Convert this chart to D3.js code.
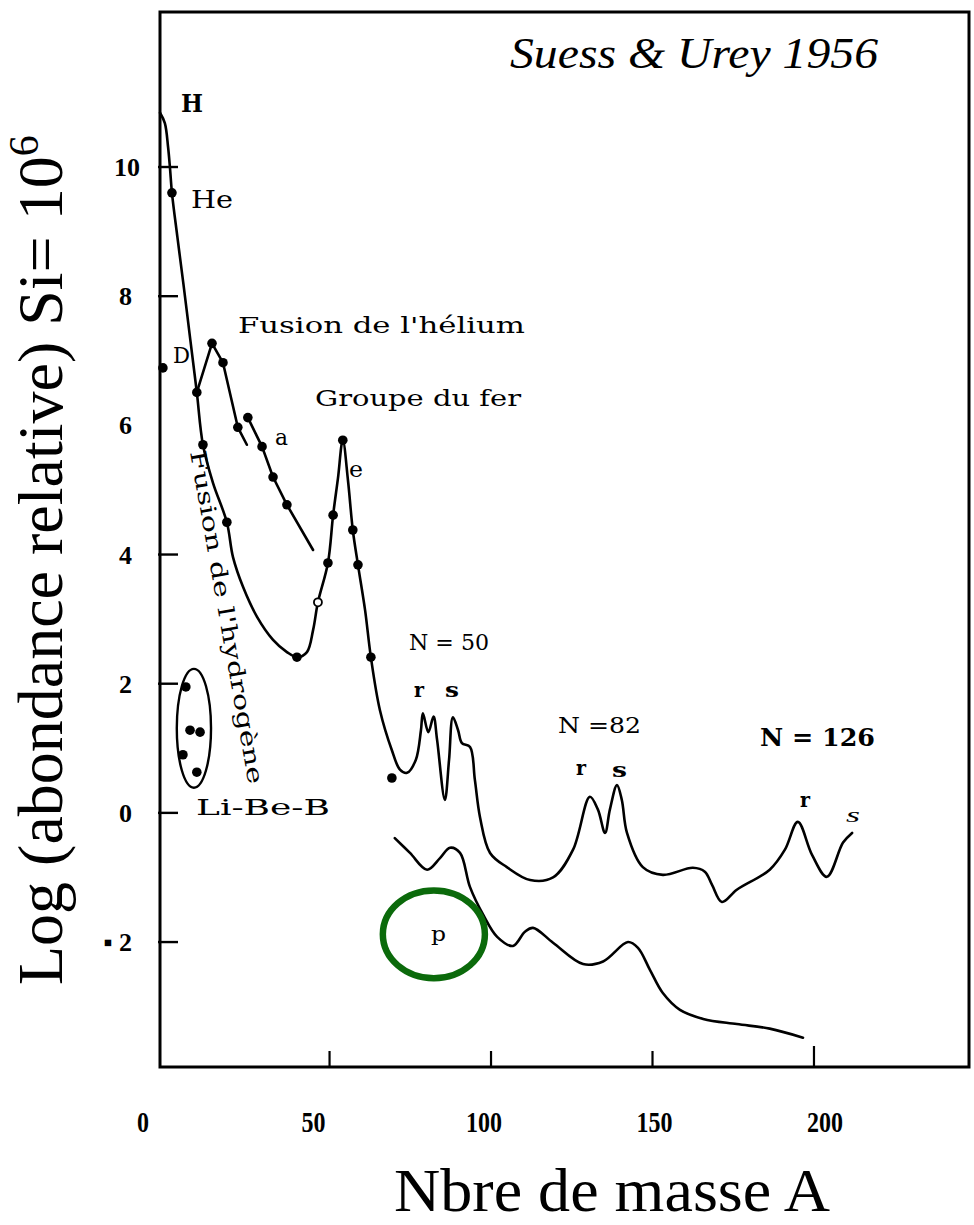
<!DOCTYPE html>
<html>
<head>
<meta charset="utf-8">
<script src="https://cdn.jsdelivr.net/npm/d3@7"></script>
<style>
  html, body { margin: 0; padding: 0; background: #fff; }
  svg { display: block; }
</style>
</head>
<body>
<div id="chart"></div>
<script>
// Solar-system abundances versus mass number (Suess & Urey 1956)
// Each point: [mass number A, log abundance (Si = 1e6)]

// Main curve: H peak, hydrogen burning branch, iron group peak, heavy elements (r/s)
const mainCurve = [
  [-2.5, 10.84], [-1.0, 10.68], [0.0, 10.31], [0.6, 9.98], [1.2, 9.60],
  [2.9, 8.91], [4.7, 8.21], [6.9, 7.32], [8.9, 6.51], [10.8, 5.70],
  [13.9, 5.11], [18.2, 4.50], [20.1, 3.96], [23.2, 3.50], [27.5, 3.04],
  [32.5, 2.68], [36.8, 2.49], [39.9, 2.41], [43.0, 2.49], [44.9, 2.83],
  [46.4, 3.26], [49.5, 3.87], [51.1, 4.61],
  [52.6, 5.18], [54.1, 5.77], [55.7, 5.15], [57.2, 4.38], [58.8, 3.84],
  [61.0, 3.14], [62.8, 2.41], [65.6, 1.59], [69.3, 0.97], [71.8, 0.67],
  [74.0, 0.62], [76.7, 0.82], [78.3, 1.28], [78.9, 1.54], [80.6, 1.25],
  [82.2, 1.49], [83.3, 1.13], [85.7, 0.20], [87.0, 0.82], [88.2, 1.48],
  [89.8, 1.28], [91.0, 1.08], [93.5, 1.02], [95.0, 0.51], [96.6, -0.07],
  [99.7, -0.62], [104.9, -0.84], [112.1, -1.04], [119.2, -1.00], [125.4, -0.57],
  [130.6, 0.25], [133.1, 0.05], [135.3, -0.31], [136.8, 0.05], [139.0, 0.43],
  [140.5, 0.20], [142.1, -0.31], [147.0, -0.84], [153.2, -0.96], [162.5, -0.85],
  [166.2, -0.91], [168.4, -1.11], [171.5, -1.38], [176.1, -1.19], [186.3, -0.88],
  [191.0, -0.57], [195.0, -0.14], [199.4, -0.65], [204.0, -0.99], [209.0, -0.46],
  [211.8, -0.31]
];

// Measured points on the main curve
const mainDots = [
  [1.2, 9.60], [8.9, 6.51], [10.8, 5.70], [18.2, 4.50], [39.9, 2.41],
  [49.5, 3.87], [51.1, 4.61], [54.1, 5.77], [57.2, 4.38], [58.8, 3.84],
  [62.8, 2.41]
];
const openDots = [[46.4, 3.26]];
const looseDots = [[-1.6, 6.89], [69.3, 0.54]];

// Helium burning ("a") branch, drawn as two straight pieces
const alphaLine1 = [[8.9, 6.51], [13.6, 7.27], [17.0, 6.97], [21.6, 5.97], [24.4, 5.70]];
const alphaLine2 = [[24.7, 6.12], [29.1, 5.67], [32.5, 5.20], [36.8, 4.77], [44.9, 4.07]];
const alphaDots = [
  [13.6, 7.27], [17.0, 6.97], [21.6, 5.97], [24.7, 6.12],
  [29.1, 5.67], [32.5, 5.20], [36.8, 4.77]
];

// Li, Be, B group
const liBeBDots = [[5.5, 1.95], [6.8, 1.28], [9.9, 1.25], [4.6, 0.90], [8.9, 0.63]];

// p-process curve
const pCurve = [
  [70.2, -0.39], [74.9, -0.62], [80.2, -0.88], [84.2, -0.70], [87.3, -0.54],
  [90.4, -0.62], [93.5, -1.15], [97.6, -1.58], [101.9, -1.92], [106.8, -2.06],
  [110.5, -1.84], [113.0, -1.78], [119.2, -2.01], [128.5, -2.34], [134.7, -2.30],
  [142.4, -2.00], [145.5, -2.09], [149.2, -2.43], [153.2, -2.79], [158.5, -3.05],
  [165.7, -3.19], [176.1, -3.27], [186.3, -3.34], [196.6, -3.48]
];

// Axis ticks and labels
const xTicks = [50, 100, 150, 200];
const xTickLabels = ["0", "50", "100", "150", "200"];
const xLabelValues = [0, 50, 100, 150, 200];
const yTicks = [10, 8, 4, 2, 0, -2];
const yTickLabels = [10, 8, 6, 4, 2, 0, -2];

const W = 974, H = 1225;
const svg = d3.select("#chart").append("svg")
  .attr("width", W).attr("height", H)
  .attr("viewBox", `0 0 ${W} ${H}`);

svg.append("rect").attr("width", W).attr("height", H).attr("fill", "#fff");

const frame = { left: 160, right: 969, top: 12, bottom: 1067 };

const x = d3.scaleLinear().domain([-2.5, 248]).range([frame.left, frame.right]);
const y = d3.scaleLinear().domain([-3.95, 12.4]).range([1068, 12]);
// printed tick numbers sit on their own slightly wider spacing
const xLabel = d3.scaleLinear().domain([0, 200]).range([143, 825]);

const serifBold = "'Liberation Serif', 'Times New Roman', serif";
const printFont = "'DejaVu Serif', 'Liberation Serif', serif";
const times = "'Liberation Serif', 'Times New Roman', serif";

// Frame
svg.append("rect")
  .attr("x", frame.left).attr("y", frame.top)
  .attr("width", frame.right - frame.left).attr("height", frame.bottom - frame.top)
  .attr("fill", "none").attr("stroke", "#000").attr("stroke-width", 3);

// Bottom ticks (pointing up)
svg.append("g").selectAll("line").data(xTicks).join("line")
  .attr("x1", d => x(d)).attr("x2", d => x(d))
  .attr("y1", frame.bottom).attr("y2", d => frame.bottom - (d === 200 ? 21 : 16))
  .attr("stroke", "#000").attr("stroke-width", 2.2);

// Left ticks (pointing right)
svg.append("g").selectAll("line").data(yTicks).join("line")
  .attr("x1", frame.left - 2).attr("x2", frame.left + 18)
  .attr("y1", d => y(d)).attr("y2", d => y(d))
  .attr("stroke", "#000").attr("stroke-width", 2.4);

// Tick labels
svg.append("g").selectAll("text").data(xLabelValues).join("text")
  .attr("x", d => xLabel(d)).attr("y", 1132)
  .attr("text-anchor", "middle")
  .attr("font-family", serifBold).attr("font-weight", "bold").attr("font-size", 29)
  .attr("textLength", (d, i) => xTickLabels[i].length * 12)
  .attr("lengthAdjust", "spacingAndGlyphs")
  .text((d, i) => xTickLabels[i]);

svg.append("g").selectAll("text").data(yTickLabels).join("text")
  .attr("x", d => d === 10 ? 140 : 132).attr("y", d => y(d) + 9)
  .attr("text-anchor", "end")
  .attr("font-family", serifBold).attr("font-weight", "bold").attr("font-size", 26)
  .text(d => d < 0 ? "\u25AA " + Math.abs(d) : d);

// Curves
const smooth = d3.line().x(d => x(d[0])).y(d => y(d[1])).curve(d3.curveCatmullRom.alpha(0.5));
const straight = d3.line().x(d => x(d[0])).y(d => y(d[1]));

const curves = svg.append("g").attr("fill", "none").attr("stroke", "#000")
  .attr("stroke-width", 2.6).attr("stroke-linejoin", "round").attr("stroke-linecap", "round");
curves.append("path").attr("d", smooth(mainCurve));
curves.append("path").attr("d", smooth(pCurve));
curves.append("path").attr("d", straight(alphaLine1));
curves.append("path").attr("d", straight(alphaLine2));

// Li-Be-B outline
const lbbCenter = [8.0, 1.31];
svg.append("ellipse")
  .attr("cx", x(lbbCenter[0])).attr("cy", y(lbbCenter[1]))
  .attr("rx", x(lbbCenter[0] + 5.3) - x(lbbCenter[0]))
  .attr("ry", y(lbbCenter[1]) - y(lbbCenter[1] + 0.92))
  .attr("fill", "none").attr("stroke", "#000").attr("stroke-width", 2.4);

// Points
const dots = svg.append("g").attr("fill", "#000");
dots.selectAll(".m").data(mainDots.concat(alphaDots, liBeBDots, looseDots)).join("circle")
  .attr("cx", d => x(d[0])).attr("cy", d => y(d[1])).attr("r", 4.8);
svg.append("g").selectAll("circle").data(openDots).join("circle")
  .attr("cx", d => x(d[0])).attr("cy", d => y(d[1])).attr("r", 4)
  .attr("fill", "#fff").attr("stroke", "#000").attr("stroke-width", 1.8);

// p-process marker ring
const pCenter = [82.3, -1.88];
svg.append("ellipse")
  .attr("cx", x(pCenter[0])).attr("cy", y(pCenter[1]))
  .attr("rx", x(pCenter[0] + 15.8) - x(pCenter[0]))
  .attr("ry", y(pCenter[1]) - y(pCenter[1] + 0.68))
  .attr("fill", "none").attr("stroke", "#0b6a0b").attr("stroke-width", 6.5);

// Annotations
const ann = svg.append("g").attr("font-family", printFont).attr("fill", "#000");
function label(txt, px, py, size, width, opts = {}) {
  const t = ann.append("text").attr("x", px).attr("y", py)
    .attr("font-size", size).text(txt);
  if (width) t.attr("textLength", width).attr("lengthAdjust", "spacingAndGlyphs");
  if (opts.weight) t.attr("font-weight", opts.weight);
  if (opts.style) t.attr("font-style", opts.style);
  if (opts.family) t.attr("font-family", opts.family);
  if (opts.transform) t.attr("transform", opts.transform);
  return t;
}
label("H", 181, 112, 24, 22, { weight: "bold" });
label("He", 191, 208, 24, 42);
label("D", 173, 363, 22, 17);
label("Fusion de l'hélium", 238, 333, 23, 287);
label("Groupe du fer", 315, 406, 23, 206);
label("a", 275, 445, 23, 13);
label("e", 349, 477, 23, 14);
label("Li-Be-B", 196, 815, 22, 134);
label("N = 50", 409, 650, 22, 80);
label("r", 414, 697, 20, 10, { weight: "bold" });
label("s", 445, 697, 20, 14, { weight: "bold" });
label("N =82", 558, 733, 22, 83);
label("r", 576, 775, 20, 10, { weight: "bold" });
label("s", 612, 777, 20, 15, { weight: "bold" });
label("N = 126", 760, 746, 24, 115, { weight: "bold" });
label("r", 800, 807, 20, 10, { weight: "bold" });
label("s", 846, 822, 22, 14, { style: "italic", family: times });
label("p", 431, 941, 21, 15);
label("Fusion de l'hydrogène", 0, 0, 22, 338, { transform: "translate(190,452) rotate(80)" });

// Source credit
svg.append("text")
  .attr("x", 510).attr("y", 68)
  .attr("font-family", times).attr("font-style", "italic").attr("font-size", 44)
  .attr("textLength", 368).attr("lengthAdjust", "spacingAndGlyphs")
  .text("Suess & Urey 1956");

// Axis titles
svg.append("text")
  .attr("x", 612).attr("y", 1211)
  .attr("text-anchor", "middle")
  .attr("font-family", times).attr("font-size", 62)
  .attr("textLength", 436).attr("lengthAdjust", "spacingAndGlyphs")
  .text("Nbre de masse A");

const yTitle = svg.append("text")
  .attr("transform", "translate(62,985) rotate(-90)")
  .attr("font-family", times).attr("font-size", 64);
yTitle.append("tspan").text("Log (abondance relative) Si= 10");
yTitle.append("tspan").attr("dy", -24).attr("font-size", 42).text("6");
</script>
</body>
</html>
